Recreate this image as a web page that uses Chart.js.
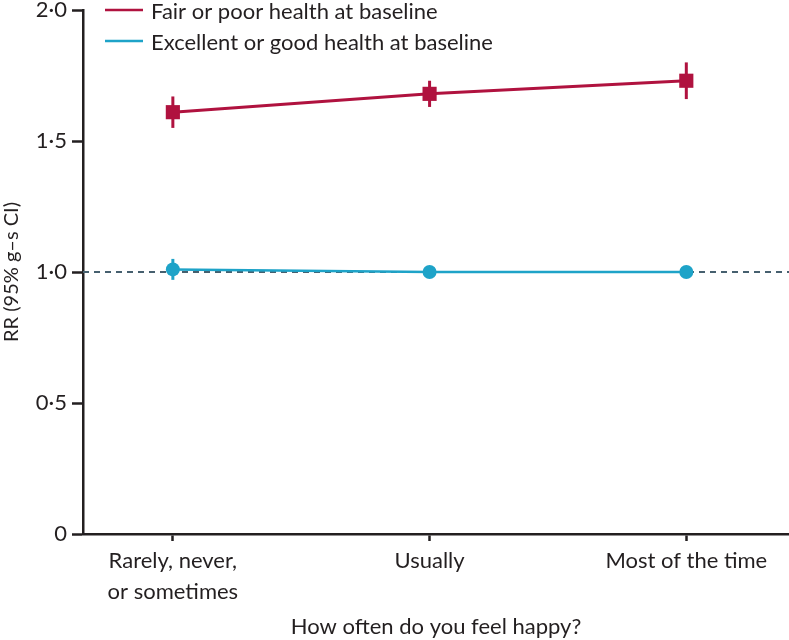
<!DOCTYPE html>
<html>
<head>
<meta charset="utf-8">
<script src="https://cdn.jsdelivr.net/npm/chart.js@4.4.1/dist/chart.umd.min.js"></script>
<style>
  html, body { margin: 0; padding: 0; background: #fff; }
  #wrap { width: 789px; height: 640px; position: relative; }
</style>
</head>
<body>
<div id="wrap"><canvas id="happyChart" width="789" height="640"></canvas></div>
<script>
// categories on the x axis (multi-line labels)
const categories = [['Rarely, never,', 'or sometimes'], ['Usually'], ['Most of the time']];
const yTicks = [0, 0.5, 1, 1.5, 2];

// Fair or poor health at baseline
const poorLabel = 'Fair or poor health at baseline';
const poorRR = [1.61, 1.68, 1.73];
const poorLow = [1.55, 1.63, 1.66];
const poorHigh = [1.67, 1.73, 1.80];

// Excellent or good health at baseline
const goodLabel = 'Excellent or good health at baseline';
const goodRR = [1.01, 1.00, 1.00];
const goodLow = [0.97, 0.99, 0.99];
const goodHigh = [1.05, 1.01, 1.01];

const refValue = 1;

const RED = '#b0123f';
const BLUE = '#1ea3c8';
const INK = '#231f20';
const FONT = 'Lato, "Open Sans", sans-serif';

const xMin = -0.35, xMax = 2.4;

function toPoints(vals) {
    return vals.map((v, i) => ({ x: i, y: v }));
}

// draws the CI whiskers through the scales
const errorBars = {
    id: 'errorBars',
    beforeDatasetsDraw(chart) {
        const ctx = chart.ctx;
        const xs = chart.scales.x, ys = chart.scales.y;
        const sets = [[poorLow, poorHigh, RED], [goodLow, goodHigh, BLUE]];
        ctx.save();
        ctx.lineWidth = 3;
        sets.forEach(([lo, hi, col]) => {
            ctx.strokeStyle = col;
            lo.forEach((l, i) => {
                const px = xs.getPixelForValue(i);
                ctx.beginPath();
                ctx.moveTo(px, ys.getPixelForValue(l));
                ctx.lineTo(px, ys.getPixelForValue(hi[i]));
                ctx.stroke();
            });
        });
        ctx.restore();
    }
};

// legend inside the plot, top left
const lineLegend = {
    id: 'lineLegend',
    afterDraw(chart) {
        const ctx = chart.ctx;
        const items = [[poorLabel, RED], [goodLabel, BLUE]];
        ctx.save();
        ctx.font = '22px ' + FONT;
        ctx.textBaseline = 'middle';
        items.forEach(([txt, col], i) => {
            const y = 10 + i * 31;
            ctx.strokeStyle = col;
            ctx.lineWidth = 2.5;
            ctx.beginPath();
            ctx.moveTo(105, y);
            ctx.lineTo(143, y);
            ctx.stroke();
            ctx.fillStyle = INK;
            ctx.fillText(txt, 151, y + 2);
        });
        ctx.restore();
    }
};

new Chart(document.getElementById('happyChart'), {
    type: 'line',
    data: {
        datasets: [
            {
                label: 'ref',
                data: [{ x: xMin, y: refValue }, { x: xMax, y: refValue }],
                borderColor: '#46606f',
                borderWidth: 2,
                borderDash: [6, 5],
                pointRadius: 0,
                order: 3
            },
            {
                label: goodLabel,
                data: toPoints(goodRR),
                borderColor: BLUE,
                backgroundColor: BLUE,
                borderWidth: 2.5,
                pointStyle: 'circle',
                pointRadius: 7,
                pointBorderWidth: 0,
                order: 2
            },
            {
                label: poorLabel,
                data: toPoints(poorRR),
                borderColor: RED,
                backgroundColor: RED,
                borderWidth: 3,
                pointStyle: 'rect',
                pointRadius: 10,
                pointBorderWidth: 0,
                order: 1
            }
        ]
    },
    options: {
        responsive: false,
        animation: false,
        layout: { autoPadding: false, padding: { top: 10, right: 0, left: 0, bottom: 0 } },
        plugins: {
            legend: { display: false },
            tooltip: { enabled: false }
        },
        scales: {
            x: {
                type: 'linear',
                min: xMin,
                max: xMax,
                afterBuildTicks: s => { s.ticks = categories.map((c, i) => ({ value: i })); },
                afterFit: s => { s.height = 106; s.paddingLeft = 0; s.paddingRight = 0; },
                border: { color: INK, width: 2.5 },
                grid: { drawOnChartArea: false, tickLength: 7, color: INK, tickWidth: 2.5 },
                ticks: {
                    color: INK,
                    font: { family: FONT, size: 22, lineHeight: 1.4 },
                    padding: 5,
                    autoSkip: false,
                    maxRotation: 0,
                    callback: v => categories[v]
                },
                title: {
                    display: true,
                    text: 'How often do you feel happy?',
                    color: INK,
                    font: { family: FONT, size: 22 },
                    padding: { top: 4, bottom: 0 }
                }
            },
            y: {
                min: 0,
                max: 2,
                afterBuildTicks: s => { s.ticks = yTicks.map(v => ({ value: v })); },
                afterFit: s => { s.width = 83; s.paddingTop = 0; s.paddingBottom = 0; },
                border: { color: INK, width: 2.5 },
                grid: { drawOnChartArea: false, tickLength: 11, color: INK, tickWidth: 2.5 },
                ticks: {
                    color: INK,
                    font: { family: FONT, size: 22 },
                    padding: 5,
                    callback: v => v === 0 ? '0' : v.toFixed(1).replace('.', '·')
                },
                title: {
                    display: true,
                    text: 'RR (95% g–s CI)',
                    color: INK,
                    font: { family: FONT, size: 20 },
                    padding: { top: 0, bottom: 0 }
                }
            }
        }
    },
    plugins: [errorBars, lineLegend]
});
</script>
</body>
</html>
